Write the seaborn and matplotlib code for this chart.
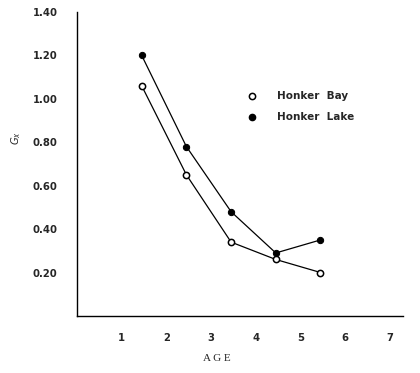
import matplotlib
matplotlib.use("Agg")
import matplotlib.pyplot as plt
from matplotlib.lines import Line2D
import seaborn as sns
import pandas as pd

# Mean age of each age class and the Gx values for the two sites
age = [1.45, 2.45, 3.45, 4.45, 5.45]
honker_bay = [1.06, 0.65, 0.34, 0.26, 0.20]
honker_lake = [1.20, 0.78, 0.48, 0.29, 0.35]

x_ticks = [1, 2, 3, 4, 5, 6, 7]
y_ticks = [0.20, 0.40, 0.60, 0.80, 1.00, 1.20, 1.40]
y_tick_labels = ["0.20", "0.40", "0.60", "0.80", "1.00", "1.20", "1.40"]

sns.set_style("white")
plt.rcParams["font.family"] = ["DejaVu Sans"]
plt.rcParams["font.stretch"] = "condensed"

df = pd.DataFrame({
    "AGE": age * 2,
    "Gx": honker_bay + honker_lake,
    "site": ["Honker Bay"] * len(age) + ["Honker Lake"] * len(age),
})

fig = plt.figure(figsize=(4.2, 3.73), dpi=100)
ax = fig.add_axes([0.183, 0.153, 0.777, 0.815])

sns.lineplot(data=df[df.site == "Honker Bay"], x="AGE", y="Gx", ax=ax,
             color="black", lw=0.9, marker="o", markersize=4.5,
             markerfacecolor="white", markeredgecolor="black",
             markeredgewidth=1.1, legend=False)
sns.lineplot(data=df[df.site == "Honker Lake"], x="AGE", y="Gx", ax=ax,
             color="black", lw=0.9, marker="o", markersize=4.5,
             markerfacecolor="black", markeredgecolor="black",
             legend=False)

ax.set_xlim(0, 7.3)
ax.set_ylim(0, 1.40)
ax.set_xticks(x_ticks)
ax.set_xticklabels([str(t) for t in x_ticks], fontsize=8, fontweight="bold",
                   fontstretch="condensed")
ax.set_yticks(y_ticks)
ax.set_yticklabels(y_tick_labels, fontsize=8, fontweight="bold",
                   fontstretch="condensed")
ax.tick_params(axis="x", length=0, pad=12)
ax.tick_params(axis="y", length=0, pad=14)

for side in ["top", "right"]:
    ax.spines[side].set_visible(False)
for side in ["left", "bottom"]:
    ax.spines[side].set_color("black")
    ax.spines[side].set_linewidth(1.0)

ax.set_xlabel("A G E", fontsize=8, family="Liberation Serif")
ax.xaxis.set_label_coords(0.43, -0.125)
ax.set_ylabel(r"$G_x$", fontsize=8, rotation=90)
ax.yaxis.set_label_coords(-0.165, 0.585)

handles = [
    Line2D([], [], ls="none", marker="o", markersize=4.5,
           markerfacecolor="white", markeredgecolor="black", markeredgewidth=1.1),
    Line2D([], [], ls="none", marker="o", markersize=4.5,
           markerfacecolor="black", markeredgecolor="black"),
]
ax.legend(handles, ["Honker  Bay", "Honker  Lake"],
          loc="upper left", bbox_to_anchor=(0.475, 0.77), frameon=False,
          handletextpad=1.4, labelspacing=1.05,
          prop={"weight": "bold", "size": 7.5, "stretch": "normal"})

fig.savefig("out.png", dpi=100)
